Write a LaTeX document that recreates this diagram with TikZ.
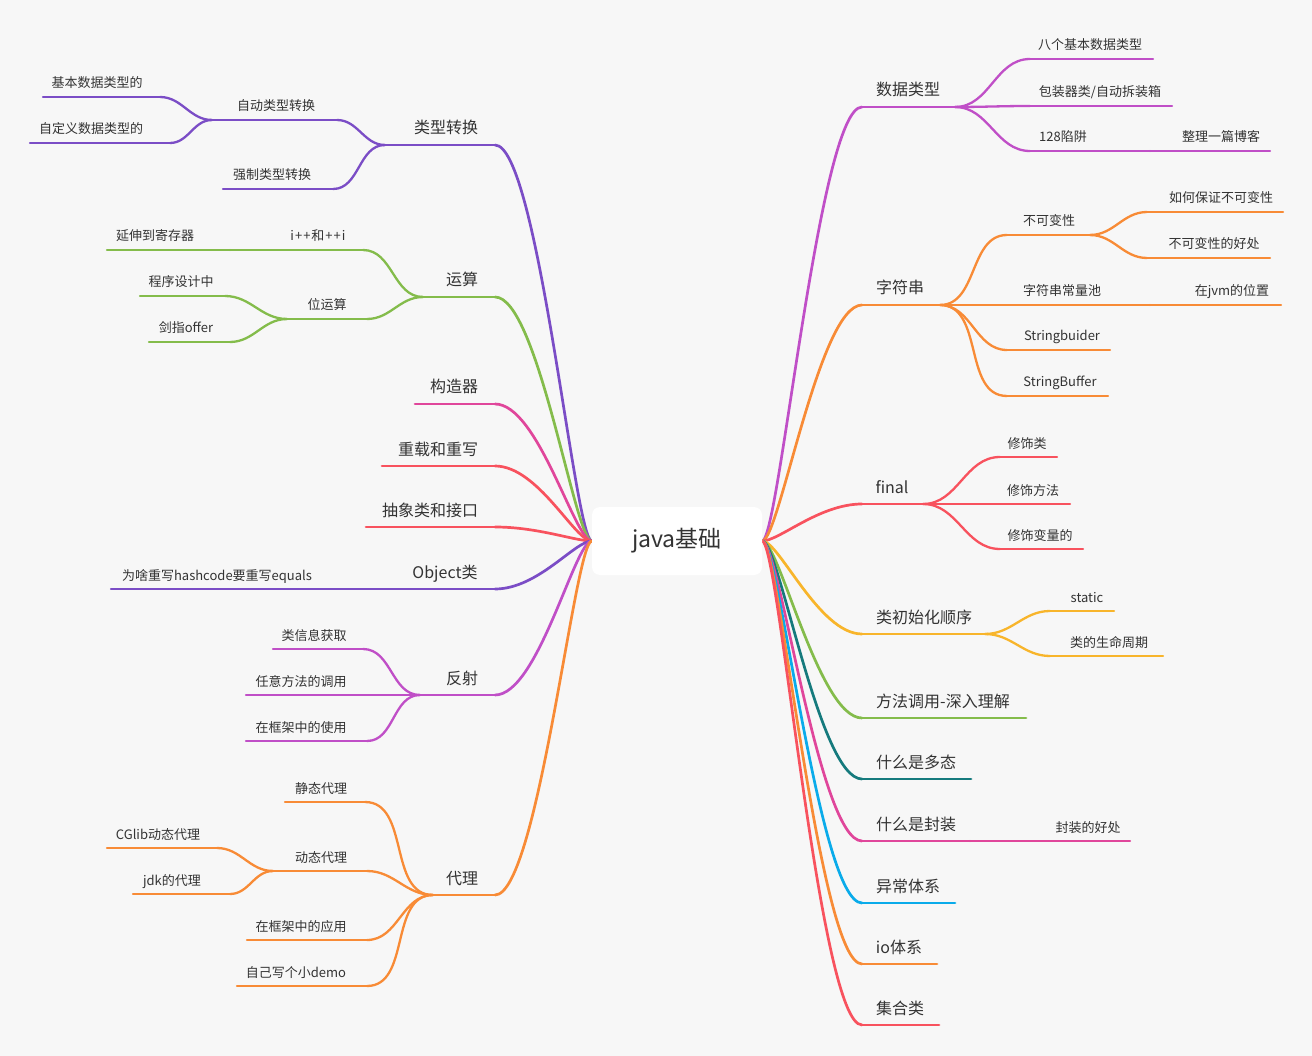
\documentclass[tikz,border=0pt]{standalone}
\usepackage{fontspec}
\setmainfont{Noto Sans CJK SC}
\usetikzlibrary{calc}
\definecolor{bg}{HTML}{F7F7F7}
\definecolor{txt}{HTML}{333333}
\definecolor{cpur}{HTML}{7B4DC6}
\definecolor{cmag}{HTML}{C04FC7}
\definecolor{cpink}{HTML}{E0469B}
\definecolor{cred}{HTML}{F8525E}
\definecolor{corg}{HTML}{F88B36}
\definecolor{cyel}{HTML}{F8B52B}
\definecolor{cgrn}{HTML}{84BC4B}
\definecolor{cteal}{HTML}{157A7D}
\definecolor{cblue}{HTML}{0AABEA}
\tikzset{
  ln1/.style={line width=2.7pt, line cap=round},
  ln2/.style={line width=2.3pt, line cap=round},
  lab1/.style={font=\fontsize{16}{18}\selectfont, text=txt, inner sep=0pt, anchor=base, yshift=11pt},
  lab2/.style={font=\fontsize{13}{15}\selectfont, text=txt, inner sep=0pt, anchor=base, yshift=9pt},
}
% #1 name, #2 level, #3 colour, #4 x1, #5 x2, #6 y, #7 label x, #8 text
\newcommand\tp[8]{%
  \coordinate (#1l) at (#4,#6);
  \coordinate (#1r) at (#5,#6);
  \draw[ln#2,#3] (#1l) -- (#1r);
  \node[lab#2] (#1) at (#7,#6) {#8};
}
\newcommand\lroot[2]{\draw[ln1,#1] (root.west) .. controls +(-17,0) and +(43,0) .. (#2);}
\newcommand\rroot[2]{\draw[ln1,#1] (root.east) .. controls +(17,0) and +(-43,0) .. (#2);}
\newcommand\lc[3]{\draw[ln2,#1] (#2) to[out=180,in=0] (#3);}
\newcommand\rc[3]{\draw[ln2,#1] (#2) to[out=0,in=180] (#3);}
\begin{document}
\begin{tikzpicture}[x=1pt,y=-1pt]
\fill[bg] (0,0) rectangle (1312,1056);
\useasboundingbox (0,0) rectangle (1312,1056);

\coordinate (rootc) at (677,541);
\node[minimum width=170pt, minimum height=68pt, inner sep=0pt] (root) at (rootc) {};

% ---------------- LEFT ----------------
\tp{A}{1}{cpur}{385}{495}{145}{446}{类型转换}
\tp{AA}{2}{cpur}{212}{337}{120}{276}{自动类型转换}
\tp{AAA}{2}{cpur}{43}{160}{97}{97}{基本数据类型的}
\tp{AAB}{2}{cpur}{30}{170}{143}{91}{自定义数据类型的}
\tp{AB}{2}{cpur}{223}{333}{189}{272}{强制类型转换}
\lroot{cpur}{Ar}
\lc{cpur}{Al}{AAr}
\lc{cpur}{Al}{ABr}
\lc{cpur}{AAl}{AAAr}
\lc{cpur}{AAl}{AABr}

\tp{B}{1}{cgrn}{423}{495}{297}{462}{运算}
\tp{BA}{2}{cgrn}{230}{363}{250}{318}{i{\kern1pt}+{\kern1pt}+{\kern1pt}和{\kern1pt}+{\kern1pt}+{\kern1pt}i}
\tp{BAA}{2}{cgrn}{107}{230}{250}{155}{延伸到寄存器}
\tp{BB}{2}{cgrn}{287}{367}{319}{327}{位运算}
\tp{BBA}{2}{cgrn}{140}{225}{296}{181}{程序设计中}
\tp{BBB}{2}{cgrn}{149}{230}{342}{186}{剑指offer}
\lroot{cgrn}{Br}
\lc{cgrn}{Bl}{BAr}
\lc{cgrn}{Bl}{BBr}
\lc{cgrn}{BAl}{BAAr}
\lc{cgrn}{BBl}{BBAr}
\lc{cgrn}{BBl}{BBBr}

\tp{C}{1}{cpink}{415}{495}{404}{454}{构造器}
\lroot{cpink}{Cr}
\tp{D}{1}{cred}{382}{495}{466}{438}{重载和重写}
\lroot{cred}{Dr}
\tp{E}{1}{cred}{366}{495}{527}{430}{抽象类和接口}
\lroot{cred}{Er}

\tp{F}{1}{cpur}{395}{495}{589}{445}{Object类}
\tp{FA}{2}{cpur}{111}{340}{589}{217}{为啥重写hashcode要重写equals}
\lroot{cpur}{Fr}
\lc{cpur}{Fl}{FAr}

\tp{G}{1}{cmag}{420}{495}{695}{462}{反射}
\tp{GA}{2}{cmag}{273}{363}{649}{314}{类信息获取}
\tp{GB}{2}{cmag}{246}{370}{695}{301}{任意方法的调用}
\tp{GC}{2}{cmag}{246}{367}{741}{301}{在框架中的使用}
\lroot{cmag}{Gr}
\lc{cmag}{Gl}{GAr}
\lc{cmag}{Gl}{GBr}
\lc{cmag}{Gl}{GCr}

\tp{H}{1}{corg}{433}{495}{895}{462}{代理}
\tp{HA}{2}{corg}{285}{365}{802}{321}{静态代理}
\tp{HB}{2}{corg}{273}{367}{871}{321}{动态代理}
\tp{HBA}{2}{corg}{107}{217}{848}{158}{CGlib动态代理}
\tp{HBB}{2}{corg}{133}{230}{894}{172}{jdk的代理}
\tp{HC}{2}{corg}{247}{367}{940}{301}{在框架中的应用}
\tp{HD}{2}{corg}{237}{367}{986}{296}{自己写个小demo}
\lroot{corg}{Hr}
\lc{corg}{Hl}{HAr}
\lc{corg}{Hl}{HBr}
\lc{corg}{Hl}{HCr}
\lc{corg}{Hl}{HDr}
\lc{corg}{HBl}{HBAr}
\lc{corg}{HBl}{HBBr}

% ---------------- RIGHT ----------------
\tp{I}{1}{cmag}{862}{955}{107}{908}{数据类型}
\tp{IA}{2}{cmag}{1030}{1153}{59}{1090}{八个基本数据类型}
\tp{IB}{2}{cmag}{1030}{1172}{106}{1100}{包装器类/自动拆装箱}
\tp{IC}{2}{cmag}{1030}{1150}{151}{1063}{128陷阱}
\tp{ICA}{2}{cmag}{1150}{1270}{151}{1221}{整理一篇博客}
\rroot{cmag}{Il}
\rc{cmag}{Ir}{IAl}
\rc{cmag}{Ir}{IBl}
\rc{cmag}{Ir}{ICl}
\rc{cmag}{ICr}{ICAl}

\tp{J}{1}{corg}{862}{940}{305}{900}{字符串}
\tp{JA}{2}{corg}{1007}{1090}{235}{1049}{不可变性}
\tp{JAA}{2}{corg}{1147}{1283}{212}{1221}{如何保证不可变性}
\tp{JAB}{2}{corg}{1147}{1270}{258}{1214}{不可变性的好处}
\tp{JB}{2}{corg}{1007}{1150}{305}{1062}{字符串常量池}
\tp{JBA}{2}{corg}{1150}{1281}{305}{1232}{在jvm的位置}
\tp{JC}{2}{corg}{1007}{1110}{350}{1062}{Stringbuider}
\tp{JD}{2}{corg}{1007}{1108}{396}{1060}{StringBuffer}
\rroot{corg}{Jl}
\rc{corg}{Jr}{JAl}
\rc{corg}{Jr}{JBl}
\rc{corg}{Jr}{JCl}
\rc{corg}{Jr}{JDl}
\rc{corg}{JAr}{JAAl}
\rc{corg}{JAr}{JABl}
\rc{corg}{JBr}{JBAl}

\tp{K}{1}{cred}{862}{923}{504}{892}{final}
\tp{KA}{2}{cred}{1000}{1057}{457}{1027}{修饰类}
\tp{KB}{2}{cred}{1000}{1070}{504}{1033}{修饰方法}
\tp{KC}{2}{cred}{1000}{1083}{549}{1040}{修饰变量的}
\rroot{cred}{Kl}
\rc{cred}{Kr}{KAl}
\rc{cred}{Kr}{KBl}
\rc{cred}{Kr}{KCl}

\tp{L}{1}{cyel}{862}{985}{634}{924}{类初始化顺序}
\tp{LA}{2}{cyel}{1050}{1114}{611}{1087}{static}
\tp{LB}{2}{cyel}{1050}{1163}{656}{1109}{类的生命周期}
\rroot{cyel}{Ll}
\rc{cyel}{Lr}{LAl}
\rc{cyel}{Lr}{LBl}

\tp{M}{1}{cgrn}{862}{1026}{718}{943}{方法调用-深入理解}
\rroot{cgrn}{Ml}
\tp{N}{1}{cteal}{862}{971}{779}{916}{什么是多态}
\rroot{cteal}{Nl}
\tp{O}{1}{cpink}{862}{970}{841}{916}{什么是封装}
\tp{OA}{2}{cpink}{970}{1130}{841}{1088}{封装的好处}
\rroot{cpink}{Ol}
\rc{cpink}{Or}{OAl}
\tp{P}{1}{cblue}{862}{955}{903}{908}{异常体系}
\rroot{cblue}{Pl}
\tp{Q}{1}{corg}{862}{937}{964}{899}{io体系}
\rroot{corg}{Ql}
\tp{R}{1}{cred}{862}{939}{1025}{900}{集合类}
\rroot{cred}{Rl}

\node[fill=white, rounded corners=8pt, minimum width=170pt, minimum height=68pt,
      font=\fontsize{23}{27}\selectfont, text=txt, inner sep=0pt] (roottext) at (rootc) {java基础};
\end{tikzpicture}
\end{document}
